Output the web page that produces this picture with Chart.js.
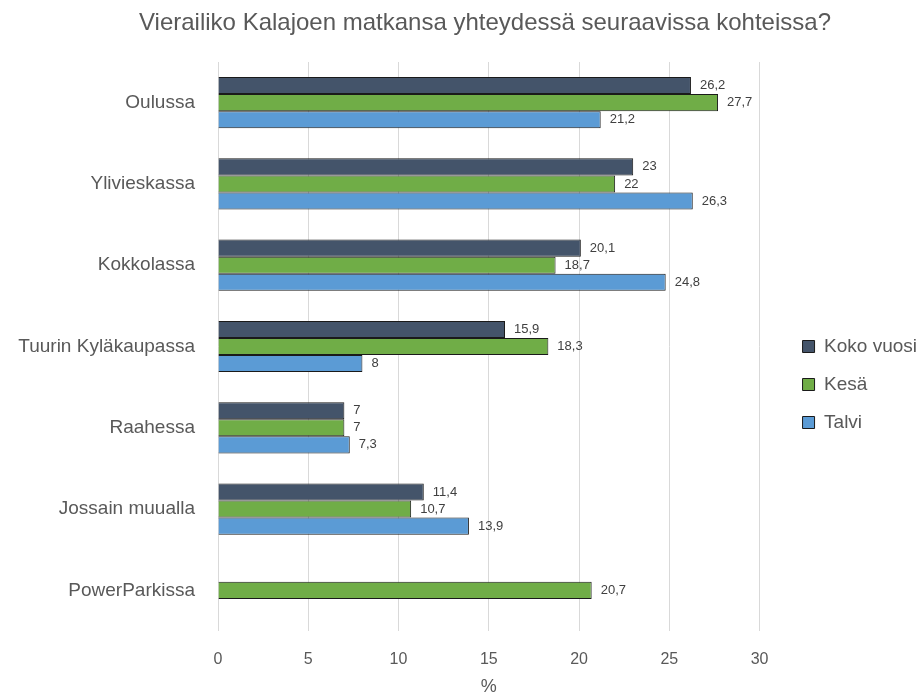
<!DOCTYPE html>
<html>
<head>
<meta charset="utf-8">
<script src="https://cdn.jsdelivr.net/npm/chart.js@4/dist/chart.umd.min.js"></script>
<style>
  html, body { margin: 0; padding: 0; background: #fff; }
  #wrap { width: 918px; height: 695px; position: relative; }
</style>
</head>
<body>
<div id="wrap"><canvas id="chart"></canvas></div>
<script>
document.addEventListener('DOMContentLoaded', function() {
    const titleText = 'Vierailiko Kalajoen matkansa yhteydessä seuraavissa kohteissa?';
    const categories = ['Oulussa', 'Ylivieskassa', 'Kokkolassa', 'Tuurin Kyläkaupassa', 'Raahessa', 'Jossain muualla', 'PowerParkissa'];
    const kokoVuosi = [26.2, 23, 20.1, 15.9, 7, 11.4, null];
    const kesa = [27.7, 22, 18.7, 18.3, 7, 10.7, 20.7];
    const talvi = [21.2, 26.3, 24.8, 8, 7.3, 13.9, null];
    const xTicks = [0, 5, 10, 15, 20, 25, 30];

    const textColor = '#595959';
    const fontFamily = '"Liberation Sans", Arial, sans-serif';

    // Title drawn centered over the plot like the original
    const titlePlugin = {
        id: 'customTitle',
        afterDraw(chart) {
            const ctx = chart.ctx;
            ctx.save();
            ctx.font = '24px ' + fontFamily;
            ctx.fillStyle = textColor;
            ctx.textAlign = 'center';
            ctx.textBaseline = 'middle';
            ctx.fillText(titleText, 485, 23);
            ctx.restore();
        }
    };

    // Nudge the legend a bit away from the plot, like Excel does
    const legendShift = {
        id: 'legendShift',
        afterLayout(chart) {
            const lg = chart.legend;
            if (!lg) return;
            lg.left += 24;
            lg.right += 24;
            lg.top += 6;
            lg.bottom += 6;
        }
    };

    // Value labels at the end of each bar, with comma decimals
    const valueLabels = {
        id: 'valueLabels',
        afterDatasetsDraw(chart) {
            const ctx = chart.ctx;
            ctx.save();
            ctx.font = '13px ' + fontFamily;
            ctx.fillStyle = '#404040';
            ctx.textAlign = 'left';
            ctx.textBaseline = 'middle';
            chart.data.datasets.forEach((ds, i) => {
                const meta = chart.getDatasetMeta(i);
                meta.data.forEach((bar, j) => {
                    const v = ds.data[j];
                    if (v === null || v === undefined) return;
                    ctx.fillText(String(v).replace('.', ','), bar.x + 9, bar.y);
                });
            });
            ctx.restore();
        }
    };

    const ctx = document.getElementById('chart').getContext('2d');
    new Chart(ctx, {
        type: 'bar',
        data: {
            labels: categories,
            datasets: [
                { label: 'Koko vuosi', data: kokoVuosi, backgroundColor: '#44546A', borderColor: '#1a1a1a', borderWidth: 1 },
                { label: 'Kesä', data: kesa, backgroundColor: '#70AD47', borderColor: '#1a1a1a', borderWidth: 1 },
                { label: 'Talvi', data: talvi, backgroundColor: '#5B9BD5', borderColor: '#1a1a1a', borderWidth: 1 }
            ]
        },
        options: {
            indexAxis: 'y',
            responsive: true,
            maintainAspectRatio: false,
            animation: false,
            datasets: { bar: { categoryPercentage: 0.63, barPercentage: 1 } },
            layout: { padding: { top: 62, left: 0, right: 15, bottom: 0 } },
            plugins: {
                title: { display: false },
                tooltip: { enabled: false },
                legend: {
                    position: 'right',
                    align: 'center',
                    labels: {
                        boxWidth: 12,
                        boxHeight: 12,
                        padding: 19,
                        color: textColor,
                        font: { family: fontFamily, size: 19 }
                    }
                }
            },
            scales: {
                x: {
                    min: 0,
                    max: 30,
                    afterBuildTicks(scale) {
                        scale.ticks = xTicks.map(v => ({ value: v }));
                    },
                    afterFit(scale) { scale.height = 64; },
                    grid: { color: '#D9D9D9', drawTicks: false },
                    border: { display: false },
                    ticks: { color: textColor, padding: 19, font: { family: fontFamily, size: 16 } },
                    title: { display: true, text: '%', color: textColor, padding: { top: 0, bottom: -3 }, font: { family: fontFamily, size: 18 } }
                },
                y: {
                    afterFit(scale) { scale.width = 218; },
                    grid: { display: false, drawTicks: false },
                    border: { display: false },
                    ticks: { color: textColor, padding: 23, font: { family: fontFamily, size: 19 } }
                }
            }
        },
        plugins: [titlePlugin, legendShift, valueLabels]
    });
});
</script>
</body>
</html>
